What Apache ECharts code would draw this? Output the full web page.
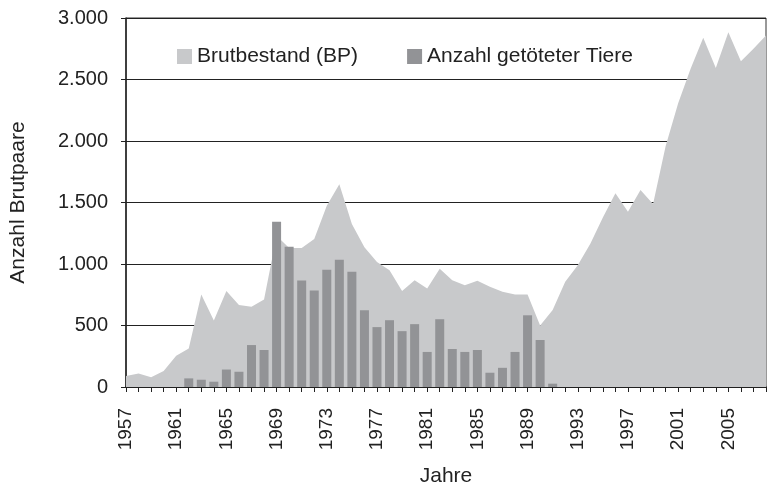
<!DOCTYPE html>
<html><head><meta charset="utf-8">
<script src="https://cdn.jsdelivr.net/npm/echarts@6/dist/echarts.min.js"></script>
<style>html,body{margin:0;padding:0;background:#fff}#c{width:767px;height:492px}</style>
</head><body><div id="c"></div>
<script>
var years = [];
for (var y = 1957; y <= 2008; y++) years.push(String(y));
var brutbestand = [90,110,80,130,255,312,753,540,780,667,653,712,1230,1130,1130,1204,1473,1648,1325,1137,1016,949,780,868,801,962,868,828,863,815,774,753,753,500,626,855,989,1164,1379,1575,1424,1602,1487,1957,2306,2589,2839,2594,2884,2648,2750,2858];
var getoetet = [null,null,null,null,null,70,59,43,142,124,341,301,1344,1140,866,785,954,1035,938,624,487,543,454,511,285,551,309,285,301,116,156,285,583,382,27,null,null,null,null,null,null,null,null,null,null,null,null,null,null,null,null,null];
var yTicks = [0,500,1000,1500,2000,2500,3000];

var chart = echarts.init(document.getElementById('c'));
var font = 'Liberation Sans, Arial, sans-serif';
chart.setOption({
  animation: false,
  textStyle: {fontFamily: font},
  grid: {left: 126, right: 1, top: 18, bottom: 102, show: true, borderColor: '#333', borderWidth: 1, backgroundColor: 'transparent'},
  legend: {
    left: 172, top: 41, itemWidth: 15, itemHeight: 15, itemGap: 49,
    textStyle: {fontSize: 21, color: '#222', fontFamily: font},
    data: [{name: 'Brutbestand (BP)', icon: 'rect'}, {name: 'Anzahl getöteter Tiere', icon: 'rect'}]
  },
  xAxis: {
    type: 'category', data: years, boundaryGap: false,
    name: 'Jahre', nameLocation: 'middle', nameGap: 79,
    nameTextStyle: {fontSize: 21, color: '#222'},
    axisLine: {lineStyle: {color: '#222', width: 1.5}},
    axisTick: {show: true, interval: 0, length: 5, lineStyle: {color: '#222'}},
    axisLabel: {interval: 3, rotate: 90, fontSize: 19, color: '#222', margin: 21},
    splitLine: {show: false}
  },
  yAxis: {
    type: 'value', min: yTicks[0], max: yTicks[yTicks.length-1], interval: 500,
    name: 'Anzahl Brutpaare', nameLocation: 'middle', nameGap: 97,
    nameTextStyle: {fontSize: 21, color: '#222'},
    axisLine: {show: true, lineStyle: {color: '#222', width: 1.5}},
    axisTick: {show: true, length: 5, lineStyle: {color: '#222'}},
    axisLabel: {fontSize: 20, color: '#222', margin: 18,
      formatter: function (v) { return v >= 1000 ? Math.floor(v/1000) + '.' + String(v%1000).padStart(3,'0') : String(v); }},
    splitLine: {show: true, lineStyle: {color: '#222', width: 1}}
  },
  series: [
    {name: 'Brutbestand (BP)', type: 'line', data: brutbestand, symbol: 'none',
     lineStyle: {width: 0}, itemStyle: {color: '#c8c9cb'},
     areaStyle: {color: '#c8c9cb', opacity: 1}, z: 2},
    {name: 'Anzahl getöteter Tiere', type: 'bar', data: getoetet, barWidth: 9,
     itemStyle: {color: '#929396'}, z: 3}
  ]
});
</script></body></html>
